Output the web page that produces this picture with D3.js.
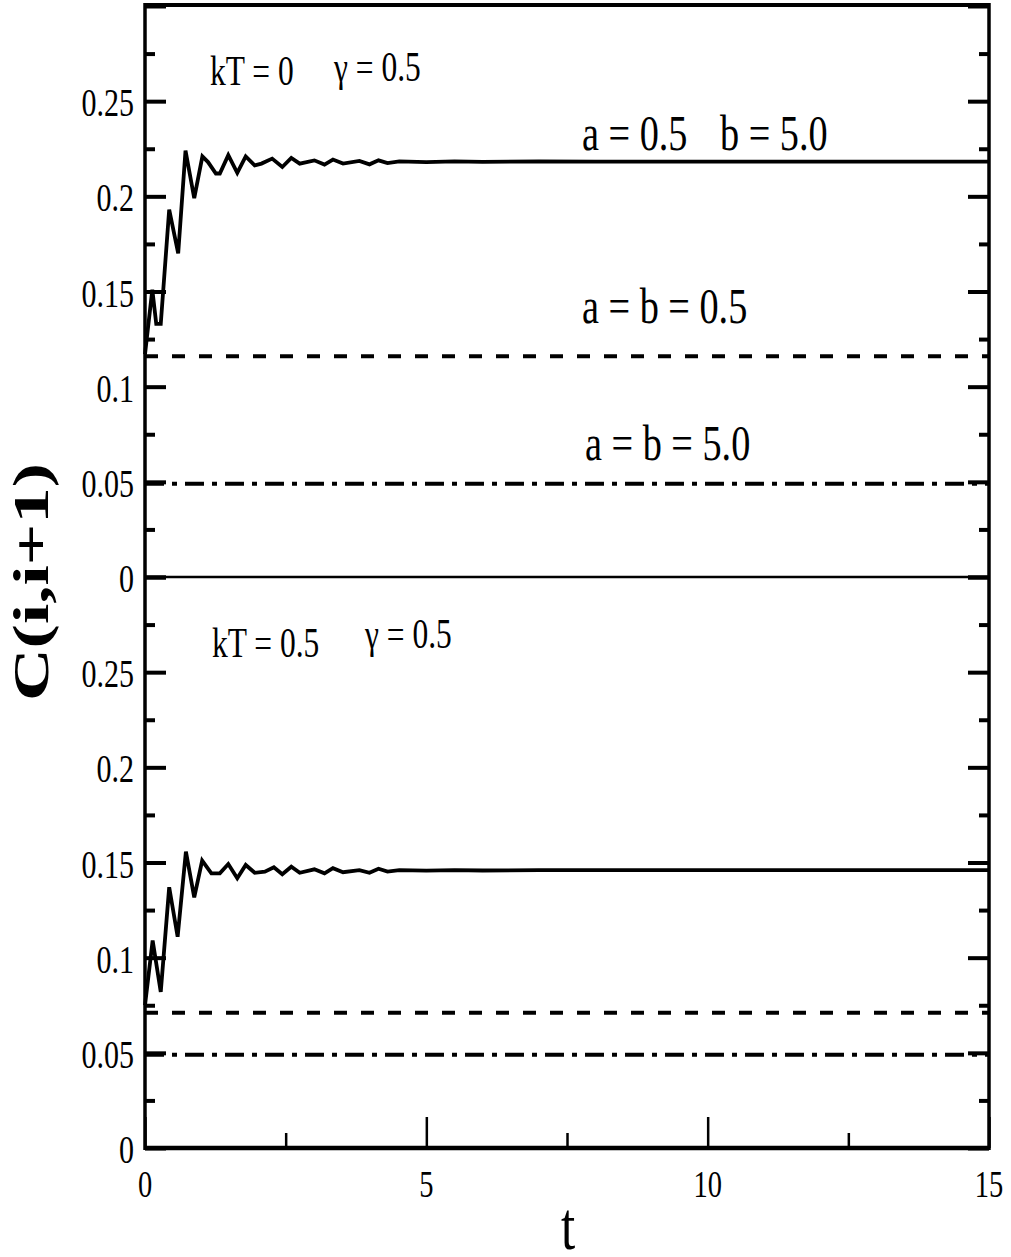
<!DOCTYPE html>
<html>
<head>
<meta charset="utf-8">
<script src="https://d3js.org/d3.v7.min.js"></script>
<style>
  body { margin: 0; background: #fff; }
  text { font-family: "Liberation Serif", "Times New Roman", serif; fill: #000; }
</style>
</head>
<body>
<script>
// values

// kT = 0 panel, a = 0.5 b = 5.0 (solid)
var upperT = [0, 0.13, 0.2, 0.28, 0.43, 0.59, 0.72, 0.875, 1.02, 1.12, 1.26, 1.33, 1.48, 1.64,
              1.79, 1.95, 2.07, 2.26, 2.44, 2.6, 2.75, 3.01, 3.19, 3.34, 3.52, 3.81, 3.99,
              4.15, 4.31, 4.52, 5.0, 5.5, 6.0, 7.0, 8.0, 15];
var upperC = [0.117, 0.151, 0.133, 0.133, 0.193, 0.170, 0.224, 0.199, 0.221, 0.218, 0.212, 0.212,
              0.2216, 0.2123, 0.221, 0.2163, 0.2172, 0.2198, 0.2154, 0.2202, 0.2172, 0.2189,
              0.2167, 0.2193, 0.2172, 0.2186, 0.2168, 0.2189, 0.2175, 0.2184, 0.2180, 0.2184,
              0.2181, 0.2183, 0.2182, 0.2182];

// kT = 0.5 panel, a = 0.5 b = 5.0 (solid)
var lowerT = [0, 0.136, 0.28, 0.43, 0.58, 0.727, 0.875, 1.016, 1.18, 1.33, 1.48, 1.64, 1.79,
              1.95, 2.13, 2.29, 2.44, 2.6, 2.75, 3.01, 3.19, 3.34, 3.52, 3.81, 3.99, 4.15,
              4.31, 4.52, 5.0, 5.5, 6.0, 7.0, 15];
var lowerC = [0.075, 0.109, 0.082, 0.137, 0.111, 0.1557, 0.1317, 0.151, 0.1443, 0.1443, 0.1492,
              0.1417, 0.1487, 0.1446, 0.1452, 0.1475, 0.1438, 0.1478, 0.1446, 0.1464, 0.1443,
              0.147, 0.1449, 0.146, 0.1446, 0.1467, 0.1452, 0.146, 0.1457, 0.146, 0.1458,
              0.146, 0.146];

// constant curves: a = b = 0.5 (dashed), a = b = 5.0 (dash-dot)
var upperDashed = 0.116, upperDashDot = 0.049;
var lowerDashed = 0.071, lowerDashDot = 0.049;

var tDomain = [0, 15];
var cDomain = [0, 0.3];
var xTicks = [0, 5, 10, 15];
var xTickLabels = ["0", "5", "10", "15"];
var xMinor = [2.5, 7.5, 12.5];
var yTicks = [0, 0.05, 0.1, 0.15, 0.2, 0.25, 0.3];
var yTickLabels = ["0", "0.05", "0.1", "0.15", "0.2", "0.25"];
var yMinor = [0.025, 0.075, 0.125, 0.175, 0.225, 0.275];

var W = 1011, H = 1257;
var left = 145, right = 989, plotTop = 6, mid = 577, bottom = 1148;
var squeeze = 0.75;   // the printed figure is narrowed horizontally

var svg = d3.select("body").append("svg")
    .attr("width", W)
    .attr("height", H);

var x = d3.scaleLinear().domain(tDomain).range([left, right]);
var yUp = d3.scaleLinear().domain(cDomain).range([mid, plotTop]);
var yLo = d3.scaleLinear().domain(cDomain).range([bottom, mid]);

function txt(px, py, s, size, anchor, weight) {
  return svg.append("text")
      .attr("transform", "translate(" + px + "," + py + ") scale(" + squeeze + ",1)")
      .attr("text-anchor", anchor || "start")
      .style("font-size", size + "px")
      .style("font-weight", weight || "normal")
      .text(s);
}

function ticks(axis, pos, size, width) {
  var g = svg.append("g")
      .attr("transform", pos)
      .call(axis.tickSize(size).tickFormat(""));
  g.select(".domain").remove();
  g.selectAll(".tick line").attr("stroke", "#000").attr("stroke-width", width);
  return g;
}

// tick marks on both panels, left and right, pointing inward
[yUp, yLo].forEach(function(y) {
  ticks(d3.axisLeft(y).tickValues(yTicks), "translate(" + left + ",0)", -21, 4);
  ticks(d3.axisLeft(y).tickValues(yMinor), "translate(" + left + ",0)", -10, 4);
  ticks(d3.axisRight(y).tickValues(yTicks), "translate(" + right + ",0)", -21, 4);
  ticks(d3.axisRight(y).tickValues(yMinor), "translate(" + right + ",0)", -10, 4);
});
ticks(d3.axisBottom(x).tickValues(xTicks), "translate(0," + bottom + ")", -31, 2.5);
ticks(d3.axisBottom(x).tickValues(xMinor), "translate(0," + bottom + ")", -15, 2.5);

// curves
function curve(T, C, y) {
  var pts = T.map(function(t, i) { return [t, C[i]]; });
  svg.append("path")
      .datum(pts)
      .attr("fill", "none")
      .attr("stroke", "#000")
      .attr("stroke-width", 3.8)
      .attr("stroke-linejoin", "miter")
      .attr("d", d3.line().x(function(d) { return x(d[0]); }).y(function(d) { return y(d[1]); }));
}
function flat(v, y, dash) {
  svg.append("line")
      .attr("x1", x(tDomain[0])).attr("x2", x(tDomain[1]))
      .attr("y1", y(v)).attr("y2", y(v))
      .attr("stroke", "#000")
      .attr("stroke-width", 4)
      .attr("stroke-dasharray", dash);
}
curve(upperT, upperC, yUp);
curve(lowerT, lowerC, yLo);
flat(upperDashed, yUp, "13,14");
flat(lowerDashed, yLo, "13,14");
flat(upperDashDot, yUp, "19,8,5,8");
flat(lowerDashDot, yLo, "19,8,5,8");

// frame
svg.append("line").attr("x1", left).attr("x2", left).attr("y1", 3).attr("y2", bottom + 2)
    .attr("stroke", "#000").attr("stroke-width", 3.5);
svg.append("line").attr("x1", right).attr("x2", right).attr("y1", 3).attr("y2", bottom + 2)
    .attr("stroke", "#000").attr("stroke-width", 3.5);
svg.append("line").attr("x1", left).attr("x2", right).attr("y1", 5).attr("y2", 5)
    .attr("stroke", "#000").attr("stroke-width", 4);
svg.append("line").attr("x1", left).attr("x2", right).attr("y1", bottom).attr("y2", bottom)
    .attr("stroke", "#000").attr("stroke-width", 4.5);
svg.append("line").attr("x1", left).attr("x2", right).attr("y1", mid).attr("y2", mid)
    .attr("stroke", "#000").attr("stroke-width", 2.5);

// tick labels
[yUp, yLo].forEach(function(y) {
  yTickLabels.forEach(function(s, i) {
    txt(134, y(yTicks[i]) + 15, s, 40, "end");
  });
});
xTickLabels.forEach(function(s, i) {
  txt(x(xTicks[i]), 1197, s, 38, "middle");
});

// axis titles
txt(568, 1249, "t", 68, "middle");
svg.append("text")
    .attr("transform", "translate(48,582) scale(0.68,1) rotate(-90)")
    .attr("text-anchor", "middle")
    .style("font-size", "73px")
    .style("font-weight", "bold")
    .text("C(i,i+1)");

// annotations
txt(210, 85, "kT = 0", 42);
txt(334, 81, "\u03b3 = 0.5", 42);
txt(582, 150, "a = 0.5", 51);
txt(720, 150, "b = 5.0", 51);
txt(582, 323, "a = b = 0.5", 51);
txt(585, 460, "a = b = 5.0", 51);
txt(212, 657, "kT = 0.5", 42);
txt(365, 648, "\u03b3 = 0.5", 42);
</script>
</body>
</html>
